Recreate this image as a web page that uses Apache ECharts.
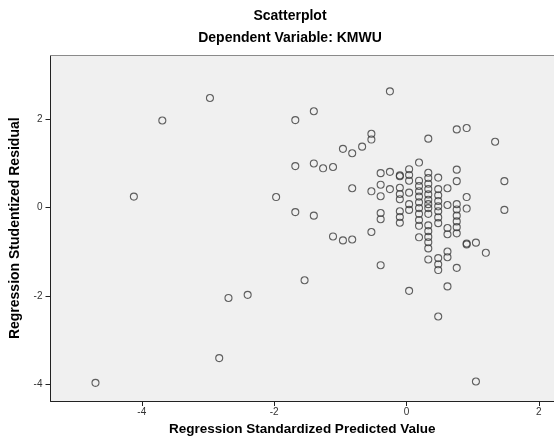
<!DOCTYPE html>
<html>
<head>
<meta charset="utf-8">
<script src="https://cdn.jsdelivr.net/npm/echarts@6/dist/echarts.min.js"></script>
<style>
html,body{margin:0;padding:0;background:#fff;overflow:hidden;}
#c{width:554px;height:444px;}
</style>
</head>
<body>
<div id="c"></div>
<script>
// Regression standardized predicted values (x) and studentized residuals (y)
const predicted = [
  -2.97,-3.69,-1.68,-1.68,-4.12,-1.97,-1.68,
  -0.25,-1.40,-0.53,-0.53,-0.96,-0.82,-0.67,0.33,0.76,0.91,1.34,
  -1.40,-1.26,-1.11,0.19,-0.39,-0.25,-0.10,-0.10,0.04,0.04,0.04,
  0.76,0.76,1.48,-0.82,-0.53,-0.39,-0.39,-0.25,-0.10,-0.10,-0.10,0.04,
  -1.40,-1.11,-0.96,-0.82,-0.53,-0.39,-0.39,-0.10,-0.10,-0.10,0.04,0.04,
  0.62,0.62,0.91,0.91,1.48,
  0.19,0.19,0.19,0.19,0.19,0.19,0.19,0.19,0.19,0.19,
  0.33,0.33,0.33,0.33,0.33,0.33,0.33,0.33,0.33,0.33,0.33,0.33,0.33,0.33,0.33,
  0.48,0.48,0.48,0.48,0.48,0.48,0.48,0.48,0.48,0.48,0.48,0.48,
  0.62,0.62,0.62,0.62,0.62,
  0.76,0.76,0.76,0.76,0.76,0.76,0.76,
  0.91,0.91,1.05,1.05,1.20,
  -1.54,-2.69,-2.40,-2.83,-4.70,0.04,-0.39
];
const residual = [
  2.48,1.97,1.98,0.94,0.25,0.24,-0.10,
  2.63,2.18,1.67,1.54,1.33,1.23,1.38,1.56,1.77,1.80,1.49,
  1.00,0.89,0.92,1.02,0.78,0.81,0.71,0.73,0.87,0.74,0.61,
  0.86,0.60,0.60,0.44,0.37,0.52,0.26,0.42,0.45,0.31,0.19,0.34,
  -0.18,-0.65,-0.74,-0.72,-0.55,-0.12,-0.26,-0.08,-0.21,-0.34,0.08,-0.05,
  0.44,0.06,0.24,-0.02,-0.05,
  0.61,0.49,0.37,0.25,0.12,-0.01,-0.14,-0.28,-0.41,-0.67,
  0.79,0.67,0.54,0.42,0.30,0.18,0.08,-0.01,-0.14,-0.40,-0.53,-0.66,-0.78,-0.92,-1.17,
  0.68,0.42,0.28,0.15,0.03,-0.08,-0.22,-0.35,-1.14,-1.28,-1.41,-2.46,
  -0.46,-0.60,-0.99,-1.12,-1.78,
  -0.04,-0.18,-0.31,-0.44,-0.58,-1.36,0.08,
  -0.81,-0.83,-0.79,-3.93,-1.02,
  -1.64,-2.04,-1.97,-3.40,-3.96,-1.88,-1.30
];
const xTicks = [-4, -2, 0, 2];
const yTicks = [-4, -2, 0, 2];

const points = predicted.map((x, i) => [x, residual[i]]);

const chart = echarts.init(document.getElementById('c'), null, {renderer: 'canvas'});
const font = 'Liberation Sans, Arial, sans-serif';
const xMin = -5.38, xMax = 2.23;
chart.setOption({
  animation: false,
  backgroundColor: '#ffffff',
  title: [
    {text: 'Scatterplot', left: 285, top: 4, textAlign: 'center',
     textStyle: {fontFamily: font, fontSize: 14, fontWeight: 'bold', color: '#000'}},
    {text: 'Dependent Variable: KMWU', left: 285, top: 26, textAlign: 'center',
     textStyle: {fontFamily: font, fontSize: 14, fontWeight: 'bold', color: '#000'}}
  ],
  grid: {left: 50.5, top: 55.5, right: 0, bottom: 43, show: true,
         backgroundColor: '#f0f0f0', borderWidth: 0},
  xAxis: [{
    type: 'value', min: xMin, max: xMax,
    name: 'Regression Standardized Predicted Value', nameLocation: 'middle', nameGap: 16,
    nameTextStyle: {fontFamily: font, fontSize: 13.5, fontWeight: 'bold', color: '#000'},
    splitLine: {show: false},
    axisLine: {show: true, onZero: false, lineStyle: {color: '#222', width: 1}},
    axisTick: {show: true, length: 5, customValues: xTicks, lineStyle: {color: '#222'}},
    axisLabel: {customValues: xTicks, margin: 6, fontFamily: font, fontSize: 10, color: '#333'}
  }, {
    type: 'value', min: xMin, max: xMax, position: 'top',
    splitLine: {show: false},
    axisLine: {show: true, onZero: false, lineStyle: {color: '#8a8a8a', width: 1}},
    axisTick: {show: false}, axisLabel: {show: false}
  }],
  yAxis: {
    type: 'value', min: -4.37, max: 3.44,
    name: 'Regression Studentized Residual', nameLocation: 'middle', nameGap: 28,
    nameTextStyle: {fontFamily: font, fontSize: 14, fontWeight: 'bold', color: '#000'},
    splitLine: {show: false},
    axisLine: {show: true, onZero: false, lineStyle: {color: '#222', width: 1}},
    axisTick: {show: true, length: 5, customValues: yTicks, lineStyle: {color: '#222'}},
    axisLabel: {customValues: yTicks, margin: 8, fontFamily: font, fontSize: 10, color: '#333'}
  },
  series: [{
    type: 'scatter',
    data: points,
    symbol: 'circle',
    symbolSize: 7,
    itemStyle: {color: 'rgba(0,0,0,0)', borderColor: '#3a3a3a', borderWidth: 1.1}
  }]
});
</script>
</body>
</html>
